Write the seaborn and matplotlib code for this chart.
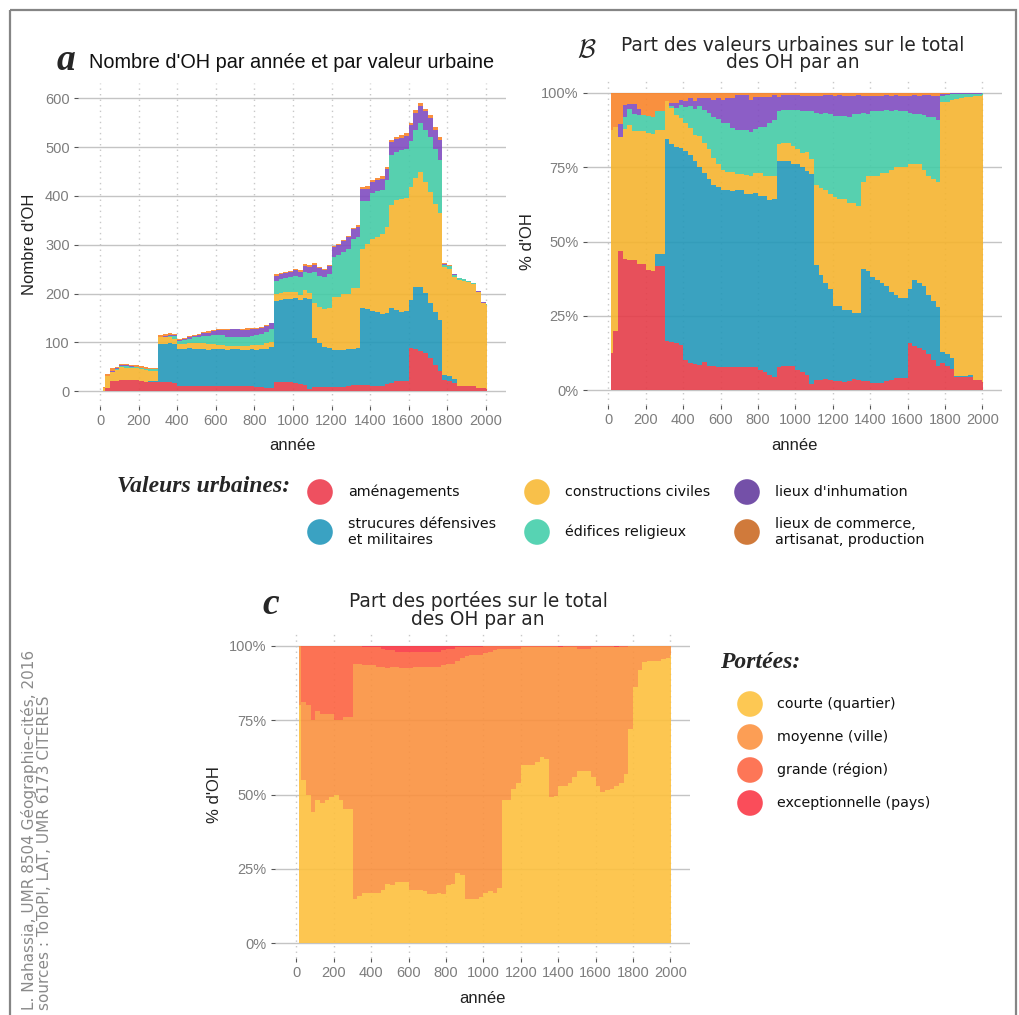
import numpy as np
import pandas as pd
import seaborn as sns
import matplotlib.pyplot as plt
from matplotlib.patches import Rectangle
from matplotlib.ticker import PercentFormatter

# years (start of each 25-year slice), data runs from ~15 to ~2005
annee = [15] + list(range(25, 2001, 25))
bornes = annee + [2005]

valeurs = ["aménagements", "strucures défensives\net militaires", "constructions civiles",
           "édifices religieux", "lieux d'inhumation", "lieux de commerce,\nartisanat, production"]
couleurs_valeurs = ["#E53D49", "#2498B9", "#F5B42F", "#45CBA7", "#804CC0", "#F9842A"]
couleurs_legende = ["#EE5060", "#3AA2C2", "#F8C04A", "#57D3B3", "#7450A8", "#D07A3B"]

amenagements = [1, 7, 22, 22, 24, 24, 23, 23, 21, 20, 20, 20, 19, 19, 19, 18,
                11, 10, 10, 10, 11, 10, 10, 10, 10, 10, 10, 10, 10, 10, 10, 10,
                9, 8, 7, 6, 19, 20, 20, 20, 17, 15, 13, 5, 9, 9, 9, 9,
                9, 9, 9, 10, 12, 12, 13, 13, 11, 11, 11, 14, 18, 21, 21, 21,
                88, 86, 83, 78, 68, 54, 42, 24, 21, 17, 10, 10, 10, 10, 7, 6, 5]
defensives = [0, 0, 0, 0, 0, 0, 0, 0, 0, 0, 2, 2, 78, 78, 79, 78,
              76, 77, 78, 77, 75, 76, 75, 76, 76, 76, 75, 76, 76, 74, 75, 76,
              76, 78, 80, 84, 166, 167, 169, 168, 173, 171, 179, 183, 101, 90, 81, 79,
              75, 76, 75, 76, 75, 76, 158, 155, 153, 151, 147, 147, 152, 146, 142, 143,
              99, 127, 130, 124, 113, 108, 104, 10, 10, 9, 1, 1, 1, 1, 0, 0, 0]
civiles = [6, 24, 18, 22, 25, 24, 24, 24, 24, 23, 20, 20, 15, 14, 13, 12,
           10, 10, 10, 12, 12, 12, 11, 10, 9, 8, 8, 7, 7, 8, 8, 9,
           10, 9, 11, 11, 14, 15, 15, 15, 13, 12, 16, 13, 71, 74, 78, 82,
           110, 109, 115, 114, 124, 123, 121, 134, 147, 153, 163, 175, 211, 224, 231, 232,
           231, 224, 236, 226, 226, 221, 218, 220, 219, 208, 216, 215, 212, 208, 196, 174, 172]
religieux = [0, 0, 0, 2, 3, 3, 3, 3, 3, 3, 3, 3, 0, 1, 3, 5,
             6, 8, 10, 12, 13, 15, 17, 19, 20, 21, 19, 19, 19, 19, 19, 19,
             20, 22, 24, 26, 26, 27, 27, 30, 33, 35, 36, 41, 63, 64, 65, 70,
             81, 85, 87, 92, 100, 105, 97, 88, 95, 96, 92, 97, 103, 99, 99, 100,
             94, 98, 100, 107, 113, 113, 109, 5, 6, 5, 4, 3, 2, 2, 1, 1, 1]
inhumation = [0, 0, 2, 2, 1, 2, 1, 0, 0, 0, 0, 0, 0, 1, 2, 2,
              2, 3, 3, 3, 5, 6, 7, 9, 10, 11, 13, 15, 15, 15, 14, 14,
              13, 13, 12, 12, 12, 12, 12, 12, 12, 12, 13, 13, 15, 15, 15, 16,
              20, 21, 21, 23, 21, 21, 25, 25, 22, 22, 22, 23, 26, 26, 26, 27,
              33, 35, 35, 38, 40, 38, 42, 2, 1, 1, 1, 1, 1, 1, 1, 1, 0]
commerce = [1, 4, 5, 2, 2, 2, 3, 4, 4, 4, 3, 3, 3, 4, 4, 3,
            3, 2, 3, 2, 2, 2, 3, 2, 3, 2, 2, 1, 1, 1, 3, 2,
            2, 2, 2, 1, 3, 2, 2, 2, 2, 3, 3, 3, 3, 3, 2, 2,
            3, 2, 3, 3, 3, 3, 4, 5, 4, 4, 5, 4, 5, 4, 6, 5,
            5, 5, 6, 5, 5, 6, 5, 1, 1, 0, 0, 0, 0, 0, 0, 0, 0]

portees = ["courte (quartier)", "moyenne (ville)", "grande (région)", "exceptionnelle (pays)"]
couleurs_portees = ["#FDC03E", "#FA913F", "#FC6341", "#F93744"]
couleurs_portees_leg = ["#FDC853", "#FC9E55", "#FD7657", "#FA4D5A"]

courte = [80, 55, 50, 44, 48, 47, 48, 49, 50, 48, 45, 45, 15, 16, 17, 17,
          17, 17, 18, 20, 19.5, 20.5, 20.5, 20.5, 18, 18, 18, 17.5, 16.5, 16.5, 17, 16.5,
          19.5, 20, 23.5, 23, 15, 15, 15, 15.5, 17, 17.5, 17, 18.5, 48, 48, 52, 54,
          60, 60, 60, 61, 62.5, 62, 49, 49.5, 53, 53, 54, 56, 58, 58, 58, 56,
          53, 51, 51.5, 52, 53, 54, 57, 72, 86, 92, 94.5, 95, 95, 95, 95.5, 96, 97]
moyenne = [20, 26, 30, 31, 30, 30, 29, 28, 25, 27, 31, 31, 79, 78, 76.5, 76.5,
           76.5, 76, 75, 72.5, 73.5, 72.5, 72, 72, 74.5, 75, 75, 75.5, 76.5, 76.5, 76, 77,
           74.5, 74, 71.5, 73, 81.5, 82, 82, 81.5, 80.5, 80.5, 81.5, 80.5, 51, 51, 47, 45,
           39.5, 39.5, 39.5, 38.5, 37, 37.5, 50.5, 50, 46.5, 46.5, 45.5, 43.5, 41, 41, 41, 43.5,
           46.5, 48.5, 48, 47.5, 46.5, 45.5, 42.5, 28, 14, 8, 5.5, 5, 5, 5, 4.5, 4, 3]
grande = [0, 19, 20, 25, 22, 23, 23, 23, 25, 25, 24, 24, 6, 6, 6, 6,
          6, 6.5, 6, 6, 5.5, 5, 5.5, 5.5, 5.5, 5, 5, 5, 5, 5, 5, 5,
          5, 5, 4.5, 3.5, 3, 2.5, 2.5, 2.5, 2.5, 2, 1.5, 1, 1, 1, 1, 1,
          0.5, 0.5, 0.5, 0.5, 0.5, 0.5, 0.5, 0.5, 0, 0.3, 0.5, 0.5, 1, 1, 1, 0.5,
          0.5, 0.5, 0.5, 0.5, 0, 0.5, 0.5, 0, 0, 0, 0, 0, 0, 0, 0, 0, 0]
exceptionnelle = [0, 0, 0, 0, 0, 0, 0, 0, 0, 0, 0, 0, 0, 0, 0.5, 0.5,
                  0.5, 0.5, 1, 1.5, 1.5, 2, 2, 2, 2, 2, 2, 2, 2, 2, 2, 1.5,
                  1, 1, 0.5, 0.5, 0.5, 0.5, 0.5, 0.5, 0, 0, 0, 0, 0, 0, 0, 0,
                  0, 0, 0, 0, 0, 0, 0, 0, 0.5, 0.2, 0, 0, 0, 0, 0, 0,
                  0, 0, 0, 0, 0.5, 0, 0, 0, 0, 0, 0, 0, 0, 0, 0, 0, 0]

series_val = [amenagements, defensives, civiles, religieux, inhumation, commerce]
series_por = [courte, moyenne, grande, exceptionnelle]

df_val = pd.DataFrame({
    "annee": annee * len(valeurs),
    "valeur": np.repeat(valeurs, len(annee)),
    "n": np.concatenate(series_val),
})
df_por = pd.DataFrame({
    "annee": annee * len(portees),
    "portee": np.repeat(portees, len(annee)),
    "pct": np.concatenate(series_por),
})

sns.set_theme(style="white")
plt.rcParams["font.family"] = ["Liberation Sans", "DejaVu Sans"]

W, H = 1019, 1015
fig = plt.figure(figsize=(W / 100, H / 100), dpi=100)
fig.patch.set_facecolor("white")


def px_axes(left, top, right, bottom):
    return fig.add_axes([left / W, 1 - bottom / H, (right - left) / W, (bottom - top) / H])


def style_axes(ax, ylab, ylab_x):
    ax.set_xlim(-115, 2105)
    ax.set_xticks(range(0, 2001, 200))
    ax.grid(axis="y", color="#c4c4c4", lw=1.0, ls="-")
    ax.grid(axis="x", color="#c8c8c8", lw=1.0, ls=(0, (1, 3)))
    ax.set_axisbelow(True)
    for s in ax.spines.values():
        s.set_visible(False)
    ax.tick_params(axis="both", length=3, width=0.8, color="#555555", labelcolor="#7d7d7d",
                   labelsize=10.5, bottom=True, left=True, pad=3)
    ax.set_xlabel("année", fontsize=12, color="#222222")
    ax.set_ylabel(ylab, fontsize=12, color="#222222")
    ax.xaxis.set_label_coords(0.5, -0.10)
    ax.yaxis.set_label_coords(ylab_x, 0.5)


opts = dict(element="step", linewidth=0, alpha=0.9, legend=False, antialiased=False)

# ---- A : counts
axA = px_axes(78, 83, 506, 406)
sns.histplot(data=df_val, x="annee", weights="n", hue="valeur", hue_order=valeurs[::-1],
             palette=dict(zip(valeurs, couleurs_valeurs)), multiple="stack", bins=bornes,
             ax=axA, **opts)
axA.set_ylim(-30, 631)
axA.set_yticks(range(0, 601, 100))
style_axes(axA, "Nombre d'OH", -0.096)

# ---- B : share of urban values
axB = px_axes(587, 78, 1002, 405)
sns.histplot(data=df_val, x="annee", weights="n", hue="valeur", hue_order=valeurs[::-1],
             palette=dict(zip(valeurs, couleurs_valeurs)), multiple="fill", bins=bornes,
             ax=axB, **opts)
axB.set_ylim(-0.05, 1.05)
axB.set_yticks([0, 0.25, 0.5, 0.75, 1])
axB.yaxis.set_major_formatter(PercentFormatter(1.0, decimals=0))
style_axes(axB, "% d'OH", -0.125)

# ---- C : share of portées
axC = px_axes(275, 631, 690, 958)
sns.histplot(data=df_por, x="annee", weights="pct", hue="portee", hue_order=portees[::-1],
             palette=dict(zip(portees, couleurs_portees)), multiple="fill", bins=bornes,
             ax=axC, **opts)
axC.set_ylim(-0.05, 1.05)
axC.set_yticks([0, 0.25, 0.5, 0.75, 1])
axC.yaxis.set_major_formatter(PercentFormatter(1.0, decimals=0))
style_axes(axC, "% d'OH", -0.128)

# ---- overlay for titles, legends, frame
ov = fig.add_axes([0, 0, 1, 1], zorder=5)
ov.set_xlim(0, W)
ov.set_ylim(H, 0)
ov.axis("off")
ov.patch.set_alpha(0)

ov.add_patch(Rectangle((10, 10), 1006, 1020, fill=False, edgecolor="#858585", lw=1.6, clip_on=False))

ov.text(66, 60, "a", fontsize=27, family="Liberation Serif", style="italic", weight="bold",
        ha="center", va="center")
ov.text(292, 62, "Nombre d'OH par année et par valeur urbaine", fontsize=14.3, ha="center",
        va="center", family="Liberation Sans", color="#111111")

ov.text(587, 50, r"$\mathcal{B}$", fontsize=19, math_fontfamily="cm", ha="center", va="center")
ov.text(793, 54, "Part des valeurs urbaines sur le total\ndes OH par an", fontsize=13.4,
        ha="center", va="center", family="DejaVu Sans", linespacing=0.92)

ov.text(271, 604, "c", fontsize=27, family="Liberation Serif", style="italic", weight="bold",
        ha="center", va="center")
ov.text(478, 610, "Part des portées sur le total\ndes OH par an", fontsize=13.4,
        ha="center", va="center", family="DejaVu Sans", linespacing=0.92)

# legend of urban values
ov.text(117, 487, "Valeurs urbaines:", fontsize=17, family="Liberation Serif", style="italic",
        weight="bold", ha="left", va="center")
leg_x = [320, 320, 537, 537, 747, 747]
leg_y = [492, 532, 492, 532, 492, 532]
for lab, col, x, y in zip(valeurs, couleurs_legende, leg_x, leg_y):
    ov.scatter([x], [y], s=340, color=col, edgecolor="none")
    ov.text(x + 28, y, lab, fontsize=10.3, family="DejaVu Sans", ha="left", va="center",
            linespacing=1.15, color="#111111")

# legend of portées
ov.text(720, 662, "Portées:", fontsize=17, family="Liberation Serif", style="italic",
        weight="bold", ha="left", va="center")
for i, (lab, col) in enumerate(zip(portees, couleurs_portees_leg)):
    y = 704 + i * 33
    ov.scatter([750], [y], s=340, color=col, edgecolor="none")
    ov.text(777, y, lab, fontsize=10.3, family="DejaVu Sans", ha="left", va="center",
            color="#111111")

# credits
ov.text(29, 1010, "L. Nahassia, UMR 8504 Géographie-cités, 2016", rotation=90, fontsize=11,
        family="DejaVu Sans", color="#8a8a8a", ha="center", va="bottom")
ov.text(45, 1010, "sources : ToToPI, LAT, UMR 6173 CITERES", rotation=90, fontsize=11,
        family="DejaVu Sans", color="#8a8a8a", ha="center", va="bottom")

fig.savefig("out.png", dpi=100, facecolor="white")
